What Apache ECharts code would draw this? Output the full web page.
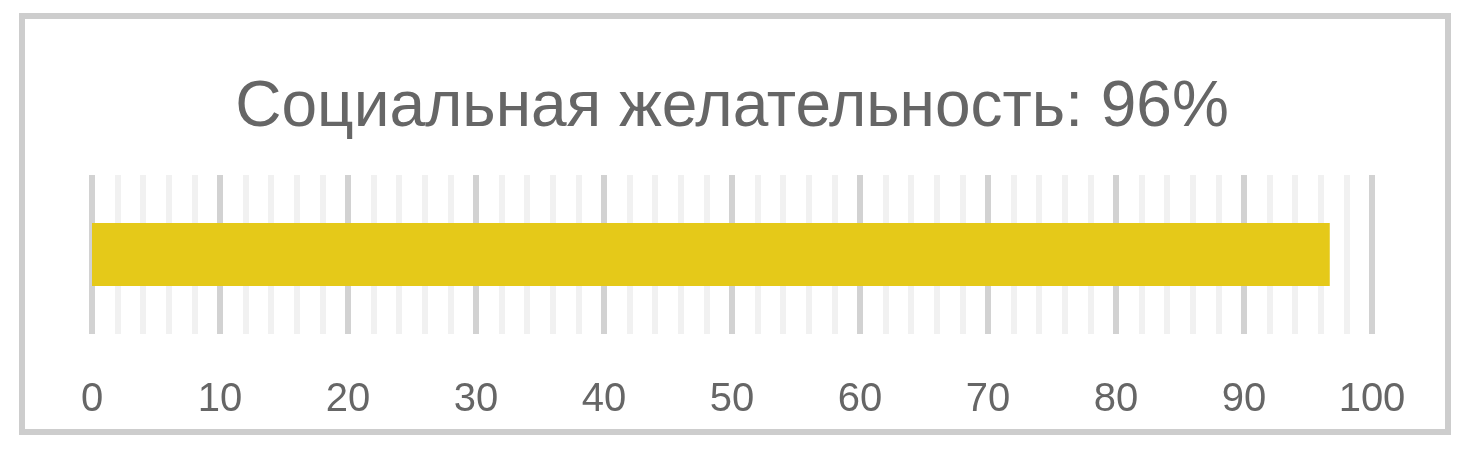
<!DOCTYPE html>
<html><head><meta charset="utf-8">
<script src="https://cdn.jsdelivr.net/npm/echarts@6/dist/echarts.min.js"></script>
<style>html,body{margin:0;padding:0;background:#fff}#c{width:1464px;height:456px}</style>
</head><body><div id="c"></div>
<script>
const titleText = 'Социальная желательность: 96%';
const categories = ['Социальная желательность'];
const values = [96.7];
const axisMin = 0, axisMax = 100, axisInterval = 10;

const chart = echarts.init(document.getElementById('c'), null, {renderer: 'canvas'});
chart.setOption({
  animation: false,
  backgroundColor: '#ffffff',
  title: {
    text: titleText, left: 'center', top: 71,
    textStyle: {fontFamily: 'Liberation Sans, Arial, sans-serif', fontSize: 64, fontWeight: 'normal', color: '#666666'}
  },
  graphic: [{
    type: 'rect', z: -1,
    shape: {x: 22, y: 16, width: 1426, height: 416},
    style: {fill: 'none', stroke: '#cdcdcd', lineWidth: 6}
  }],
  grid: {left: 92, right: 92, top: 175, bottom: 122, containLabel: false},
  xAxis: {
    type: 'value', min: axisMin, max: axisMax, interval: axisInterval,
    axisLine: {show: false}, axisTick: {show: false},
    axisLabel: {margin: 46, fontFamily: 'Liberation Sans, Arial, sans-serif', fontSize: 40, color: '#666666'},
    splitLine: {show: true, lineStyle: {color: '#d2d2d2', width: 6}},
    minorTick: {show: false, splitNumber: 5},
    minorSplitLine: {show: true, lineStyle: {color: '#f1f1f1', width: 6}}
  },
  yAxis: {
    type: 'category', data: categories,
    axisLine: {show: false}, axisTick: {show: false}, axisLabel: {show: false}, splitLine: {show: false}
  },
  series: [{
    type: 'bar', data: values, barWidth: 63,
    itemStyle: {color: '#e5c919'}
  }]
});
</script></body></html>
